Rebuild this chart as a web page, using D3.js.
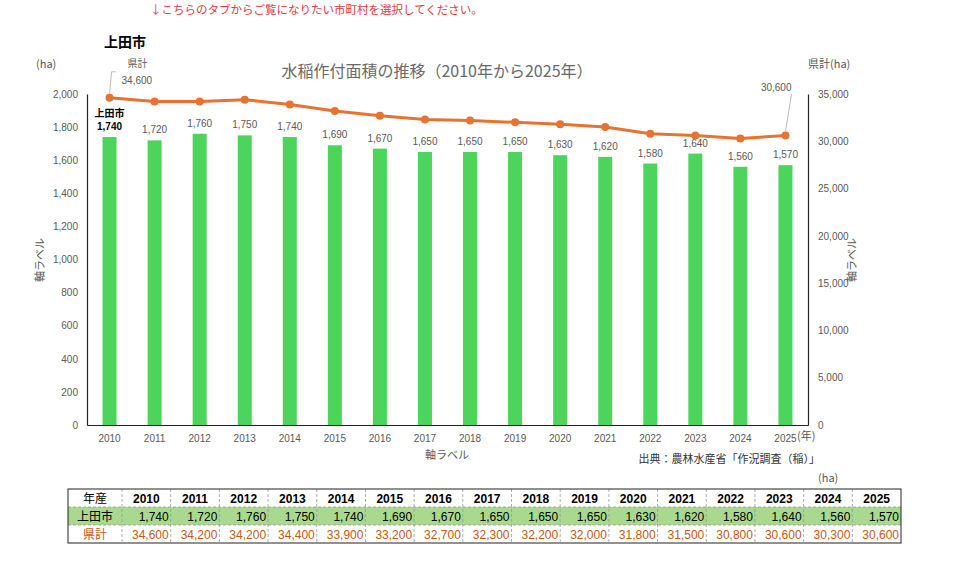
<!DOCTYPE html>
<html lang="ja">
<head>
<meta charset="UTF-8">
<title>水稲作付面積の推移</title>
<script src="https://cdn.jsdelivr.net/npm/d3@7"></script>
<style>
  body { margin: 0; background: #fff; }
  text { font-family: "Noto Sans CJK JP", "Liberation Sans", sans-serif; }
</style>
</head>
<body>
<script>
    var years = ['2010', '2011', '2012', '2013', '2014', '2015', '2016', '2017',
                 '2018', '2019', '2020', '2021', '2022', '2023', '2024', '2025'];
    var cityValues = [1740, 1720, 1760, 1750, 1740, 1690, 1670, 1650,
                      1650, 1650, 1630, 1620, 1580, 1640, 1560, 1570];
    var prefValues = [34600, 34200, 34200, 34400, 33900, 33200, 32700, 32300,
                      32200, 32000, 31800, 31500, 30800, 30600, 30300, 30600];
    var leftTicks = [0, 200, 400, 600, 800, 1000, 1200, 1400, 1600, 1800, 2000];
    var rightTicks = [0, 5000, 10000, 15000, 20000, 25000, 30000, 35000];
    var cityName = '上田市';
    var prefName = '県計';

    var width = 960, height = 569;
    var green = '#4cd45c', orange = '#e8722f', gray = '#595959';
    var plot = {left: 87, right: 808, top: 94, bottom: 425};
    var fmt = d3.format(',');

    var svg = d3.select('body').append('svg')
        .attr('width', width)
        .attr('height', height);

    var x = d3.scaleBand().domain(years).range([plot.left, plot.right]);
    var yL = d3.scaleLinear().domain([0, 2000]).range([plot.bottom, plot.top]);
    var yR = d3.scaleLinear().domain([0, 35000]).range([plot.bottom, plot.top]);
    var barW = 14;
    function cx(d) { return x(d) + x.bandwidth() / 2; }

    // top texts
    svg.append('text').attr('x', 150).attr('y', 14)
        .attr('font-size', 11.5).attr('fill', '#e03c3c')
        .text('↓こちらのタブからご覧になりたい市町村を選択してください。');
    svg.append('text').attr('x', 104).attr('y', 47)
        .attr('font-size', 14).attr('font-weight', 'bold').attr('fill', '#000')
        .text(cityName);
    svg.append('text').attr('x', 437).attr('y', 77).attr('text-anchor', 'middle')
        .attr('font-size', 16).attr('fill', '#6a6a6a')
        .text('水稲作付面積の推移（2010年から2025年）');
    svg.append('text').attr('x', 36).attr('y', 68)
        .attr('font-size', 11).attr('fill', gray).text('(ha)');
    svg.append('text').attr('x', 808).attr('y', 68)
        .attr('font-size', 11).attr('fill', gray).text('県計(ha)');

    // bars
    svg.selectAll('.bar').data(cityValues).enter().append('rect')
        .attr('class', 'bar')
        .attr('x', function (d, i) { return cx(years[i]) - barW / 2; })
        .attr('y', function (d) { return yL(d); })
        .attr('width', barW)
        .attr('height', function (d) { return plot.bottom - yL(d); })
        .attr('fill', green);

    // axes
    var axL = svg.append('g').attr('transform', 'translate(' + plot.left + ',0)')
        .call(d3.axisLeft(yL).tickValues(leftTicks).tickFormat(fmt).tickSize(0).tickPadding(9));
    var axR = svg.append('g').attr('transform', 'translate(' + plot.right + ',0)')
        .call(d3.axisRight(yR).tickValues(rightTicks).tickFormat(fmt).tickSize(0).tickPadding(10));
    var axB = svg.append('g').attr('transform', 'translate(0,' + plot.bottom + ')')
        .call(d3.axisBottom(x).tickSize(0).tickPadding(10));
    [axL, axR, axB].forEach(function (g) {
        g.select('.domain').attr('stroke', '#222').attr('stroke-width', 1.2);
        g.selectAll('text').attr('fill', gray).attr('font-size', 10)
            .style('font-family', '"Liberation Sans", sans-serif');
    });

    // axis titles
    svg.append('text').attr('transform', 'translate(44,260) rotate(-90)')
        .attr('text-anchor', 'middle').attr('font-size', 11).attr('fill', gray).text('軸ラベル');
    svg.append('text').attr('transform', 'translate(856,260) rotate(-90)')
        .attr('text-anchor', 'middle').attr('font-size', 11).attr('fill', gray).text('軸ラベル');
    svg.append('text').attr('x', 447).attr('y', 459)
        .attr('text-anchor', 'middle').attr('font-size', 11).attr('fill', gray).text('軸ラベル');
    svg.append('text').attr('x', 797).attr('y', 440)
        .attr('font-size', 11).attr('fill', gray).text('(年)');
    svg.append('text').attr('x', 820).attr('y', 463).attr('text-anchor', 'end')
        .attr('font-size', 11).attr('fill', '#333').text('出典：農林水産省「作況調査（稲）」');

    // bar labels
    svg.selectAll('.blabel').data(cityValues).enter().append('text')
        .attr('class', 'blabel')
        .attr('x', function (d, i) { return cx(years[i]); })
        .attr('y', function (d) { return yL(d) - 7; })
        .attr('text-anchor', 'middle')
        .attr('font-size', 10)
        .attr('font-weight', function (d, i) { return i === 0 ? 'bold' : 'normal'; })
        .attr('fill', function (d, i) { return i === 0 ? '#000' : gray; })
        .style('font-family', '"Liberation Sans", sans-serif')
        .text(function (d) { return fmt(d); });
    svg.append('text').attr('x', cx(years[0])).attr('y', yL(cityValues[0]) - 20)
        .attr('text-anchor', 'middle').attr('font-size', 10).attr('font-weight', 'bold')
        .attr('fill', '#000').text(cityName);

    // prefecture line
    var line = d3.line()
        .x(function (d, i) { return cx(years[i]); })
        .y(function (d) { return yR(d); });
    svg.append('path').datum(prefValues)
        .attr('d', line).attr('fill', 'none')
        .attr('stroke', orange).attr('stroke-width', 3);
    svg.selectAll('.dot').data(prefValues).enter().append('circle')
        .attr('cx', function (d, i) { return cx(years[i]); })
        .attr('cy', function (d) { return yR(d); })
        .attr('r', 4).attr('fill', orange);

    // line labels with leaders
    var p0x = cx(years[0]), p0y = yR(prefValues[0]);
    svg.append('path')
        .attr('d', 'M' + p0x + ',' + (p0y - 4) + 'L' + (p0x + 2) + ',' + (p0y - 26) + 'L' + (p0x + 6) + ',' + (p0y - 26))
        .attr('fill', 'none').attr('stroke', '#aaa').attr('stroke-width', 0.8);
    svg.append('text').attr('x', p0x + 18).attr('y', p0y - 31)
        .attr('font-size', 10).attr('fill', gray).text(prefName);
    svg.append('text').attr('x', p0x + 12).attr('y', p0y - 14)
        .attr('font-size', 10).attr('fill', gray)
        .style('font-family', '"Liberation Sans", sans-serif')
        .text(fmt(prefValues[0]));
    var pnx = cx(years[15]), pny = yR(prefValues[15]);
    svg.append('line')
        .attr('x1', pnx).attr('y1', pny - 4).attr('x2', pnx + 6).attr('y2', 94)
        .attr('stroke', '#aaa').attr('stroke-width', 0.8);
    svg.append('text').attr('x', pnx + 6).attr('y', 91).attr('text-anchor', 'end')
        .attr('font-size', 10).attr('fill', gray)
        .style('font-family', '"Liberation Sans", sans-serif')
        .text(fmt(prefValues[15]));

    // data table
    var tb = {left: 68, right: 901, top: 489, rowH: 18, firstW: 54};
    var tx = d3.scaleBand().domain(years).range([tb.left + tb.firstW, tb.right]);
    var rows = [
        {label: '年産', values: years, bg: '#fff', color: '#000', bold: true},
        {label: cityName, values: cityValues.map(fmt), bg: '#a9d98e', color: '#000', bold: false},
        {label: prefName, values: prefValues.map(fmt), bg: '#fff', color: '#c55a11', bold: false}
    ];
    svg.append('text').attr('x', 818).attr('y', 482)
        .attr('font-size', 11).attr('fill', gray).text('(ha)');
    var tg = svg.append('g');
    rows.forEach(function (r, ri) {
        var ry = tb.top + ri * tb.rowH;
        tg.append('rect').attr('x', tb.left).attr('y', ry)
            .attr('width', tb.right - tb.left).attr('height', tb.rowH).attr('fill', r.bg);
        tg.append('text').attr('x', tb.left + tb.firstW / 2).attr('y', ry + 13.5)
            .attr('text-anchor', 'middle').attr('font-size', 12)
            .attr('fill', r.color).text(r.label);
        tg.selectAll(null).data(r.values).enter().append('text')
            .attr('x', function (d, i) {
                return ri === 0 ? tx(years[i]) + tx.bandwidth() / 2 : tx(years[i]) + tx.bandwidth() - 2;
            })
            .attr('y', ry + 13.5)
            .attr('text-anchor', ri === 0 ? 'middle' : 'end')
            .attr('font-size', 12)
            .attr('font-weight', r.bold ? 'bold' : 'normal')
            .attr('fill', r.color)
            .style('font-family', '"Liberation Sans", sans-serif')
            .text(function (d) { return d; });
        if (ri > 0) {
            tg.append('line').attr('x1', tb.left).attr('x2', tb.right)
                .attr('y1', ry).attr('y2', ry)
                .attr('stroke', '#999').attr('stroke-width', 0.8).attr('stroke-dasharray', '3,2');
        }
    });
    tg.selectAll('.vsep').data(years).enter().append('line')
        .attr('x1', function (d) { return tx(d); }).attr('x2', function (d) { return tx(d); })
        .attr('y1', tb.top).attr('y2', tb.top + 3 * tb.rowH)
        .attr('stroke', '#999').attr('stroke-width', 0.8).attr('stroke-dasharray', '3,2');
    tg.append('rect').attr('x', tb.left).attr('y', tb.top)
        .attr('width', tb.right - tb.left).attr('height', 3 * tb.rowH)
        .attr('fill', 'none').attr('stroke', '#222').attr('stroke-width', 1);
</script>
</body>
</html>
